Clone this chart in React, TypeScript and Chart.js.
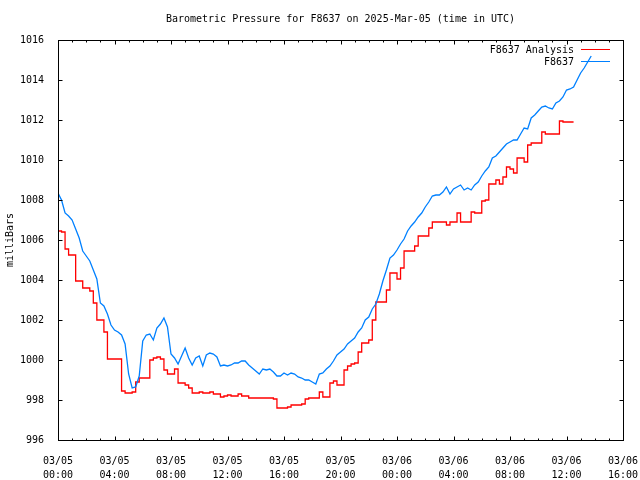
import { useEffect, useRef } from "react";
import { Chart, registerables } from "chart.js";

Chart.register(...registerables);

const TITLE = "Barometric Pressure for F8637 on 2025-Mar-05 (time in UTC)";
const Y_TITLE = "milliBars";
const SERIES_NAMES = ["F8637 Analysis", "F8637"];
const SERIES_COLORS = ["#ff0000", "#0080ff"];
const FONT = '"DejaVu Sans Mono", "Liberation Mono", monospace';

// sampling interval of the readings below (minutes from 03/05 00:00 UTC)
const SAMPLE_MINUTES = 15;

const xTickDates = ["03/05", "03/05", "03/05", "03/05", "03/05", "03/05", "03/06", "03/06", "03/06", "03/06", "03/06"];
const xTickTimes = ["00:00", "04:00", "08:00", "12:00", "16:00", "20:00", "00:00", "04:00", "08:00", "12:00", "16:00"];
const yTicks = [996, 998, 1000, 1002, 1004, 1006, 1008, 1010, 1012, 1014, 1016];

const analysisPressure = [
  1006.5, 1006.45, 1006.4, 1005.55, 1005.25, 1005.25, 1003.95, 1003.95, 1003.6, 1003.6,
  1003.45, 1002.85, 1002.0, 1002.0, 1001.4, 1000.05, 1000.05, 1000.05, 1000.05, 998.45,
  998.35, 998.35, 998.4, 998.9, 999.1, 999.1, 999.1, 1000.0, 1000.1, 1000.15,
  1000.05, 999.5, 999.3, 999.3, 999.55, 998.85, 998.85, 998.75, 998.6, 998.35,
  998.35, 998.4, 998.35, 998.35, 998.4, 998.3, 998.3, 998.15, 998.2, 998.25,
  998.2, 998.2, 998.3, 998.2, 998.2, 998.1, 998.1, 998.1, 998.1, 998.1,
  998.1, 998.1, 998.05, 997.6, 997.6, 997.6, 997.65, 997.75, 997.75, 997.75,
  997.8, 998.05, 998.1, 998.1, 998.1, 998.4, 998.15, 998.15, 998.85, 998.95,
  998.75, 998.75, 999.5, 999.7, 999.8, 999.85, 1000.4, 1000.85, 1000.85, 1001.0,
  1002.0, 1002.9, 1002.9, 1002.9, 1003.5, 1004.35, 1004.35, 1004.05, 1004.6, 1005.45,
  1005.45, 1005.45, 1005.7, 1006.2, 1006.2, 1006.2, 1006.6, 1006.9, 1006.9, 1006.9,
  1006.9, 1006.75, 1006.9, 1006.9, 1007.35, 1006.9, 1006.9, 1006.9, 1007.4, 1007.35,
  1007.35, 1007.95, 1008.0, 1008.8, 1008.8, 1009.0, 1008.8, 1009.15, 1009.65, 1009.55,
  1009.35, 1010.1, 1010.1, 1009.9, 1010.75, 1010.85, 1010.85, 1010.85, 1011.4, 1011.3,
  1011.3, 1011.3, 1011.3, 1011.95, 1011.9, 1011.9, 1011.9,
];

const observedPressure = [
  1008.35, 1008.0, 1007.35, 1007.2, 1007.0, 1006.55, 1006.1, 1005.45, 1005.2, 1004.95,
  1004.5, 1004.05, 1002.85, 1002.7, 1002.3, 1001.75, 1001.5, 1001.4, 1001.25, 1000.8,
  999.3, 998.6, 998.65, 999.2, 1000.95, 1001.25, 1001.3, 1001.0, 1001.6, 1001.8,
  1002.1, 1001.65, 1000.3, 1000.1, 999.8, 1000.2, 1000.6, 1000.1, 999.75, 1000.1,
  1000.2, 999.7, 1000.25, 1000.35, 1000.3, 1000.15, 999.7, 999.75, 999.7, 999.75,
  999.85, 999.85, 999.95, 999.95, 999.75, 999.6, 999.45, 999.3, 999.55, 999.5,
  999.55, 999.4, 999.2, 999.2, 999.35, 999.25, 999.35, 999.3, 999.15, 999.1,
  999.0, 999.0, 998.9, 998.8, 999.3, 999.35, 999.55, 999.7, 999.95, 1000.25,
  1000.4, 1000.55, 1000.8, 1000.95, 1001.1, 1001.4, 1001.6, 1002.0, 1002.15, 1002.55,
  1002.8, 1003.3, 1003.95, 1004.5, 1005.1, 1005.25, 1005.5, 1005.8, 1006.05, 1006.45,
  1006.7, 1006.9, 1007.15, 1007.35, 1007.65, 1007.9, 1008.2, 1008.25, 1008.25, 1008.4,
  1008.65, 1008.3, 1008.55, 1008.65, 1008.75, 1008.5, 1008.6, 1008.5, 1008.75, 1008.9,
  1009.2, 1009.45, 1009.65, 1010.1, 1010.2, 1010.4, 1010.6, 1010.8, 1010.9, 1011.0,
  1011.0, 1011.3, 1011.6, 1011.55, 1012.1, 1012.25, 1012.45, 1012.65, 1012.7, 1012.6,
  1012.55, 1012.85, 1012.95, 1013.15, 1013.5, 1013.55, 1013.65, 1014.0, 1014.35, 1014.6,
  1014.9, 1015.2,
];

const toPoints = (vals: number[]) =>
  vals.map((v, i) => ({ x: (i * SAMPLE_MINUTES) / 60, y: v }));

const framePlugin = {
  id: "gnuplotFrame",
  afterDraw(chart: any) {
    const { ctx, chartArea: a, scales } = chart;
    const xs = scales.x;
    const ys = scales.y;
    ctx.save();
    ctx.strokeStyle = "#000";
    ctx.lineWidth = 1;
    ctx.strokeRect(a.left + 0.5, a.top + 0.5, a.right - a.left, a.bottom - a.top);
    ctx.beginPath();
    for (let h = 0; h <= 40; h++) {
      const px = Math.round(xs.getPixelForValue(h)) + 0.5;
      const len = h % 4 === 0 ? 4 : 2;
      ctx.moveTo(px, a.bottom + 0.5);
      ctx.lineTo(px, a.bottom + 0.5 - len);
      ctx.moveTo(px, a.top + 0.5);
      ctx.lineTo(px, a.top + 0.5 + len);
    }
    for (const v of yTicks) {
      const py = Math.round(ys.getPixelForValue(v)) + 0.5;
      ctx.moveTo(a.left + 0.5, py);
      ctx.lineTo(a.left + 0.5 + 4, py);
      ctx.moveTo(a.right + 0.5, py);
      ctx.lineTo(a.right + 0.5 - 4, py);
    }
    ctx.stroke();

    ctx.fillStyle = "#000";
    ctx.font = `10px ${FONT}`;
    ctx.textBaseline = "middle";
    ctx.textAlign = "center";
    ctx.fillText(TITLE, (a.left + a.right) / 2, 19);

    ctx.textAlign = "right";
    const legendY = [50, 62];
    SERIES_NAMES.forEach((name, i) => {
      ctx.fillStyle = "#000";
      ctx.fillText(name, a.right - 49, legendY[i]);
      ctx.strokeStyle = SERIES_COLORS[i];
      ctx.lineWidth = 1;
      ctx.beginPath();
      ctx.moveTo(a.right - 42, legendY[i] - 0.5);
      ctx.lineTo(a.right - 13, legendY[i] - 0.5);
      ctx.stroke();
    });
    ctx.restore();
  },
};

export default function App() {
  const ref = useRef<HTMLCanvasElement | null>(null);

  useEffect(() => {
    if (!ref.current) return;
    const tickFont = { family: FONT, size: 10, lineHeight: 1.4 };
    const chart = new Chart(ref.current, {
      type: "line",
      data: {
        datasets: [
          {
            label: SERIES_NAMES[0],
            data: toPoints(analysisPressure),
            borderColor: SERIES_COLORS[0],
            backgroundColor: SERIES_COLORS[0],
            borderWidth: 1.3,
            pointRadius: 0,
            stepped: "after",
            fill: false,
            order: 2,
          },
          {
            label: SERIES_NAMES[1],
            data: toPoints(observedPressure),
            borderColor: SERIES_COLORS[1],
            backgroundColor: SERIES_COLORS[1],
            borderWidth: 1.3,
            pointRadius: 0,
            tension: 0,
            fill: false,
            order: 1,
          },
        ],
      },
      options: {
        animation: false,
        responsive: false,
        devicePixelRatio: 1,
        layout: { padding: { top: 40, right: 17, left: 0, bottom: 0 } },
        plugins: {
          legend: { display: false },
          tooltip: { enabled: false },
          title: { display: false },
        },
        scales: {
          x: {
            type: "linear",
            min: 0,
            max: 40,
            grid: { display: false },
            border: { display: false },
            ticks: {
              stepSize: 4,
              autoSkip: false,
              maxRotation: 0,
              padding: 6,
              color: "#000",
              font: tickFont,
              callback: (v: any) => {
                const i = Math.round(Number(v) / 4);
                return [xTickDates[i], xTickTimes[i]];
              },
            },
            afterFit: (s: any) => {
              s.height = 40;
              s.paddingLeft = 0;
              s.paddingRight = 0;
            },
          },
          y: {
            min: 996,
            max: 1016,
            grid: { display: false },
            border: { display: false },
            ticks: {
              stepSize: 2,
              padding: 6,
              color: "#000",
              font: { family: FONT, size: 10 },
              callback: (v: any) => String(v),
            },
            title: {
              display: true,
              text: Y_TITLE,
              color: "#000",
              font: { family: FONT, size: 10 },
              padding: { top: 4, bottom: 0 },
            },
            afterFit: (s: any) => {
              s.width = 58;
              s.paddingTop = 0;
              s.paddingBottom = 0;
            },
          },
        },
      },
      plugins: [framePlugin],
    } as any);
    return () => chart.destroy();
  }, []);

  return (
    <div style={{ position: "absolute", left: 0, top: 0, width: 640, height: 480, background: "#fff" }}>
      <canvas ref={ref} width={640} height={480} style={{ width: 640, height: 480 }} />
    </div>
  );
}
